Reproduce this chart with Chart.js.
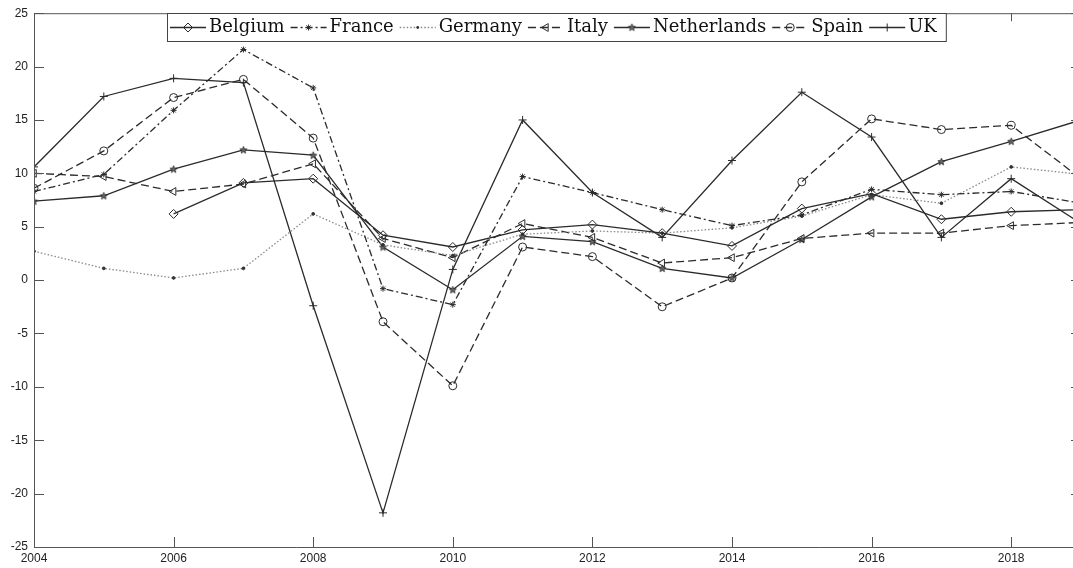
<!DOCTYPE html>
<html>
<head>
<meta charset="utf-8">
<title>Growth by country</title>
<script src="https://cdn.jsdelivr.net/npm/chart.js@4.4.1/dist/chart.umd.min.js"></script>
<style>
  html, body { margin: 0; padding: 0; background: #fff; overflow: hidden; }
  /* a bit wider than the window: the 2019 edge of the plot is cut off, as in the original */
  #wrap { width: 1090px; height: 568px; }
</style>
</head>
<body>
<div id="wrap"><canvas id="growthChart"></canvas></div>
<script>
// ---- data ----
var years = [2004, 2005, 2006, 2007, 2008, 2009, 2010, 2011, 2012, 2013, 2014, 2015, 2016, 2017, 2018, 2019];

var belgium     = [null, null, 6.2, 9.1, 9.5, 4.2, 3.1, 4.7, 5.2, 4.4, 3.2, 6.7, 8.1, 5.7, 6.4, 6.6];
var france      = [8.3, 9.9, 15.9, 21.6, 18.0, -0.8, -2.3, 9.7, 8.2, 6.6, 5.1, 6.1, 8.5, 8.0, 8.3, 7.2];
var germany     = [2.7, 1.1, 0.2, 1.1, 6.2, 3.3, 2.3, 4.3, 4.6, 4.4, 4.9, 6.0, 8.0, 7.2, 10.6, 9.9];
var italy       = [10.0, 9.7, 8.3, 9.0, 10.9, 3.9, 2.1, 5.3, 4.0, 1.6, 2.1, 3.9, 4.4, 4.4, 5.1, 5.4];
var netherlands = [7.4, 7.9, 10.4, 12.2, 11.7, 3.1, -0.9, 4.1, 3.6, 1.1, 0.2, 3.8, 7.8, 11.1, 13.0, 15.0];
var spain       = [8.6, 12.1, 17.1, 18.8, 13.3, -3.9, -9.9, 3.1, 2.2, -2.5, 0.2, 9.2, 15.1, 14.1, 14.5, 9.5];
var uk          = [10.6, 17.2, 18.9, 18.5, -2.4, -21.8, 1.0, 15.0, 8.2, 4.0, 11.2, 17.6, 13.4, 4.0, 9.5, 5.3];

var xTicks = [2004, 2006, 2008, 2010, 2012, 2014, 2016, 2018];
var yTicks = [-25, -20, -15, -10, -5, 0, 5, 10, 15, 20, 25];

// ---- helpers ----
function pairs(vals) {
  return years.map(function (y, i) { return { x: y, y: vals[i] }; });
}

function starPath(g, cx, cy, r) {
  g.beginPath();
  for (var i = 0; i < 10; i++) {
    var rad = i % 2 ? r * 0.42 : r;
    var a = -Math.PI / 2 + i * Math.PI / 5;
    g.lineTo(cx + rad * Math.cos(a), cy + rad * Math.sin(a));
  }
  g.closePath();
}

// pentagram marker for Netherlands (Chart.js has no such style)
var pentagram = (function () {
  var c = document.createElement('canvas');
  c.width = 9; c.height = 9;
  var g = c.getContext('2d');
  starPath(g, 4.5, 4.8, 3.8);
  g.fillStyle = '#666';
  g.fill();
  g.strokeStyle = '#2b2b2b';
  g.lineWidth = 0.8;
  g.stroke();
  return c;
})();

var ink = '#2b2b2b';
var none = 'rgba(0,0,0,0)';

var datasets = [
  { label: 'Belgium', data: pairs(belgium), borderDash: [], pointStyle: 'rectRot', pointRadius: 4.5, marker: 'diamond' },
  { label: 'France', data: pairs(france), borderDash: [7, 3, 2, 3], pointStyle: 'star', pointRadius: 3, marker: 'asterisk' },
  { label: 'Germany', data: pairs(germany), borderDash: [1.5, 2], pointStyle: 'circle', pointRadius: 1.4,
    borderColor: '#8a8a8a', pointBackgroundColor: '#333', pointBorderColor: '#333', marker: 'dot' },
  { label: 'Italy', data: pairs(italy), borderDash: [8, 4], pointStyle: 'triangle', pointRotation: -90, pointRadius: 4.5, marker: 'triangle' },
  { label: 'Netherlands', data: pairs(netherlands), borderDash: [], pointStyle: pentagram, pointRadius: 4, marker: 'pentagram' },
  { label: 'Spain', data: pairs(spain), borderDash: [8, 4], pointStyle: 'circle', pointRadius: 4, marker: 'circle' },
  { label: 'UK', data: pairs(uk), borderDash: [], pointStyle: 'cross', pointRadius: 4, marker: 'plus' }
];

datasets.forEach(function (d) {
  d.borderColor = d.borderColor || ink;
  d.borderWidth = 1.3;
  d.pointBorderColor = d.pointBorderColor || ink;
  d.pointBackgroundColor = d.pointBackgroundColor || none;
  d.pointBorderWidth = 1;
  d.fill = false;
  d.tension = 0;
});

// ---- box with inward ticks, like the original ----
var frame = {
  id: 'frame',
  afterDatasetsDraw: function (chart) {
    var ctx = chart.ctx, a = chart.chartArea;
    var xs = chart.scales.x, ys = chart.scales.y;
    ctx.save();
    ctx.strokeStyle = '#555';
    ctx.lineWidth = 1;
    ctx.setLineDash([]);
    ctx.beginPath();
    ctx.rect(a.left + 0.5, a.top + 0.5, a.right - a.left, a.bottom - a.top);
    xs.ticks.forEach(function (t) {
      var px = Math.round(xs.getPixelForValue(t.value)) + 0.5;
      ctx.moveTo(px, a.bottom); ctx.lineTo(px, a.bottom - 10);
      ctx.moveTo(px, a.top); ctx.lineTo(px, a.top + 8);
    });
    ys.ticks.forEach(function (t) {
      var py = Math.round(ys.getPixelForValue(t.value)) + 0.5;
      ctx.moveTo(a.left, py); ctx.lineTo(a.left + 10, py);
      ctx.moveTo(a.right, py); ctx.lineTo(a.right - 10, py);
    });
    ctx.stroke();
    ctx.restore();
  }
};

function drawMarker(ctx, kind, x, y) {
  ctx.beginPath();
  if (kind === 'diamond') {
    ctx.moveTo(x, y - 4.5); ctx.lineTo(x + 4.5, y); ctx.lineTo(x, y + 4.5); ctx.lineTo(x - 4.5, y); ctx.closePath();
  } else if (kind === 'asterisk') {
    ctx.moveTo(x - 3, y); ctx.lineTo(x + 3, y); ctx.moveTo(x, y - 3); ctx.lineTo(x, y + 3);
    ctx.moveTo(x - 2.1, y - 2.1); ctx.lineTo(x + 2.1, y + 2.1); ctx.moveTo(x - 2.1, y + 2.1); ctx.lineTo(x + 2.1, y - 2.1);
  } else if (kind === 'dot') {
    ctx.arc(x, y, 1.4, 0, Math.PI * 2); ctx.fillStyle = '#333'; ctx.fill(); return;
  } else if (kind === 'triangle') {
    ctx.moveTo(x - 4.5, y); ctx.lineTo(x + 2.25, y - 3.9); ctx.lineTo(x + 2.25, y + 3.9); ctx.closePath();
  } else if (kind === 'pentagram') {
    ctx.drawImage(pentagram, x - 4.5, y - 4.8); return;
  } else if (kind === 'circle') {
    ctx.arc(x, y, 4, 0, Math.PI * 2);
  } else if (kind === 'plus') {
    ctx.moveTo(x - 4, y); ctx.lineTo(x + 4, y); ctx.moveTo(x, y - 4); ctx.lineTo(x, y + 4);
  }
  ctx.stroke();
}

// ---- legend drawn as one row in a box (line sample + marker + name) ----
var rowLegend = {
  id: 'rowLegend',
  afterDraw: function (chart) {
    var ctx = chart.ctx;
    var left = 167, top = 13, h = 28, sample = 36;
    ctx.save();
    ctx.font = '18px "DejaVu Serif"';
    var w = 6;
    chart.data.datasets.forEach(function (d) { w += sample + 3 + ctx.measureText(d.label).width + 6; });
    ctx.fillStyle = '#fff';
    ctx.fillRect(left, top, w, h);
    ctx.strokeStyle = '#444';
    ctx.lineWidth = 1;
    ctx.setLineDash([]);
    ctx.strokeRect(left + 0.5, top + 0.5, w, h);

    var x = left + 3, cy = top + h / 2 + 0.5;
    chart.data.datasets.forEach(function (d) {
      ctx.strokeStyle = d.borderColor;
      ctx.lineWidth = d.borderWidth;
      ctx.setLineDash(d.borderDash);
      ctx.beginPath();
      ctx.moveTo(x, cy); ctx.lineTo(x + sample, cy);
      ctx.stroke();
      ctx.setLineDash([]);
      ctx.strokeStyle = ink;
      ctx.lineWidth = 1;
      drawMarker(ctx, d.marker, x + sample / 2, cy);
      x += sample + 3;
      ctx.fillStyle = '#111';
      ctx.textBaseline = 'middle';
      ctx.fillText(d.label, x, cy);
      x += ctx.measureText(d.label).width + 6;
    });
    ctx.restore();
  }
};

var tickFont = { family: '"Liberation Sans", Arial, sans-serif', size: 12 };

new Chart(document.getElementById('growthChart'), {
  type: 'line',
  data: { datasets: datasets },
  options: {
    responsive: true,
    maintainAspectRatio: false,
    animation: false,
    layout: { padding: { left: 0, top: 13, right: 9, bottom: 0 } },
    plugins: { legend: { display: false }, tooltip: { enabled: false } },
    scales: {
      x: {
        type: 'linear',
        min: 2004,
        max: 2019,
        grid: { display: false, drawTicks: false },
        border: { display: false },
        afterBuildTicks: function (s) { s.ticks = xTicks.map(function (v) { return { value: v }; }); },
        afterFit: function (s) { s.height = 21; },
        ticks: { color: '#222', font: tickFont, padding: 4, maxRotation: 0, callback: function (v) { return String(v); } }
      },
      y: {
        min: -25,
        max: 25,
        grid: { display: false, drawTicks: false },
        border: { display: false },
        afterBuildTicks: function (s) { s.ticks = yTicks.map(function (v) { return { value: v }; }); },
        afterFit: function (s) { s.width = 34; },
        ticks: { color: '#222', font: tickFont, padding: 6, callback: function (v) { return String(v); } }
      }
    }
  },
  plugins: [frame, rowLegend]
});
</script>
</body>
</html>
